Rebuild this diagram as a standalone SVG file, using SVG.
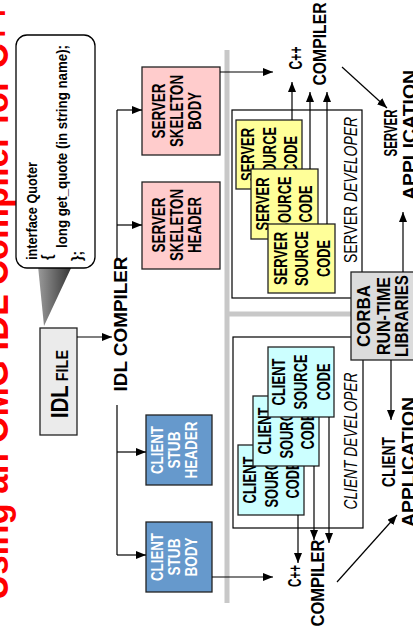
<svg xmlns="http://www.w3.org/2000/svg" width="413" height="629" viewBox="0 0 413 629">
<defs>
<marker id="ah" markerWidth="10" markerHeight="8" refX="10" refY="4" orient="auto" markerUnits="userSpaceOnUse"><path d="M0,0 L10,4 L0,8 z" fill="#000"/></marker>
<linearGradient id="pg" x1="0" y1="0" x2="1" y2="0"><stop offset="0" stop-color="#9a9a9a"/><stop offset="1" stop-color="#333"/></linearGradient>
<style>
text{font-family:"Liberation Sans",Arial,sans-serif;font-weight:bold;fill:#000}
.m{text-anchor:middle}
.b18{font-size:18px}
.b17{font-size:16.5px}
.code{font-size:14px}
.w{fill:#fff}
.dev{font-weight:normal;font-size:18px}
.it{font-style:italic}
.box{stroke:#222;stroke-width:1.3}
.ln{stroke:#000;stroke-width:1.2;fill:none}
.arr{stroke:#000;stroke-width:1.2;fill:none;marker-end:url(#ah)}
.grey{stroke:#c8c8c8;stroke-width:5;fill:none}
</style>
</defs>
<rect width="413" height="629" fill="#fff"/>
<text transform="translate(8,600) rotate(-90)" font-size="38" textLength="597" lengthAdjust="spacingAndGlyphs" style="fill:#ff0000">Using an OMG IDL Compiler for C++</text>

<g id="separators">
<line class="grey" x1="227" y1="50" x2="227" y2="603"/>
<line class="grey" x1="227" y1="314" x2="352" y2="314"/>
</g>

<g id="callout">
<polygon points="38,266 72,266 44,326" fill="url(#pg)"/>
<rect x="16" y="35" width="79" height="233" rx="11" fill="#fff" stroke="#000" stroke-width="1.3"/>
<text class="code" transform="translate(37,260) rotate(-90)" textLength="98" lengthAdjust="spacingAndGlyphs">interface  Quoter</text>
<text class="code" transform="translate(52,260) rotate(-90)">{</text>
<text class="code" transform="translate(67,248) rotate(-90)" textLength="203" lengthAdjust="spacingAndGlyphs">long  get_quote (in string name);</text>
<text class="code" transform="translate(82,261) rotate(-90)">};</text>
</g>

<g id="idl-file">
<rect class="box" x="40" y="328" width="37" height="107" fill="#ebebeb"/>
<text class="m" transform="translate(68,384) rotate(-90)" textLength="68" lengthAdjust="spacingAndGlyphs"><tspan font-size="24">IDL</tspan><tspan font-size="17"> FILE</tspan></text>
</g>

<g id="idl-compiler">
<text class="m b18" transform="translate(127,324) rotate(-90)" textLength="135" lengthAdjust="spacingAndGlyphs">IDL COMPILER</text>
</g>

<g id="server-skeleton-body">
<rect class="box" x="142" y="67" width="78" height="88" fill="#ffcccc"/>
<text class="m b18" transform="translate(165,111) rotate(-90)" textLength="55" lengthAdjust="spacingAndGlyphs">SERVER</text>
<text class="m b18" transform="translate(183,111) rotate(-90)" textLength="72" lengthAdjust="spacingAndGlyphs">SKELETON</text>
<text class="m b18" transform="translate(201,111) rotate(-90)" textLength="38" lengthAdjust="spacingAndGlyphs">BODY</text>
</g>

<g id="server-skeleton-header">
<rect class="box" x="142" y="182" width="78" height="87" fill="#ffcccc"/>
<text class="m b18" transform="translate(165,225) rotate(-90)" textLength="55" lengthAdjust="spacingAndGlyphs">SERVER</text>
<text class="m b18" transform="translate(183,225) rotate(-90)" textLength="72" lengthAdjust="spacingAndGlyphs">SKELETON</text>
<text class="m b18" transform="translate(201,225) rotate(-90)" textLength="56" lengthAdjust="spacingAndGlyphs">HEADER</text>
</g>

<g id="client-stub-header">
<rect class="box" x="146" y="415" width="66" height="70" fill="#6699cc"/>
<text class="m b17 w" transform="translate(163,450) rotate(-90)" textLength="48" lengthAdjust="spacingAndGlyphs">CLIENT</text>
<text class="m b17 w" transform="translate(180,450) rotate(-90)" textLength="37" lengthAdjust="spacingAndGlyphs">STUB</text>
<text class="m b17 w" transform="translate(197,450) rotate(-90)" textLength="57" lengthAdjust="spacingAndGlyphs">HEADER</text>
</g>

<g id="client-stub-body">
<rect class="box" x="146" y="522" width="66" height="70" fill="#6699cc"/>
<text class="m b17 w" transform="translate(163,557) rotate(-90)" textLength="48" lengthAdjust="spacingAndGlyphs">CLIENT</text>
<text class="m b17 w" transform="translate(180,557) rotate(-90)" textLength="37" lengthAdjust="spacingAndGlyphs">STUB</text>
<text class="m b17 w" transform="translate(197,557) rotate(-90)" textLength="39" lengthAdjust="spacingAndGlyphs">BODY</text>
</g>

<g id="server-developer">
<rect x="232" y="110" width="130" height="188" fill="none" stroke="#000" stroke-width="1.2"/>
<text class="m dev" transform="translate(357,190) rotate(-90)" textLength="146" lengthAdjust="spacingAndGlyphs">SERVER <tspan class="it">DEVELOPER</tspan></text>
</g>

<g id="client-developer">
<rect x="233" y="337" width="130" height="191" fill="none" stroke="#000" stroke-width="1.2"/>
<text class="m dev it" transform="translate(357,441) rotate(-90)" textLength="137" lengthAdjust="spacingAndGlyphs">CLIENT DEVELOPER</text>
</g>

<g id="server-source-1">
<rect class="box" x="236" y="120" width="66" height="69" fill="#ffff99"/>
<text class="m b18" transform="translate(254,154.5) rotate(-90)" textLength="53" lengthAdjust="spacingAndGlyphs">SERVER</text>
<text class="m b18" transform="translate(276,154.5) rotate(-90)" textLength="55" lengthAdjust="spacingAndGlyphs">SOURCE</text>
<text class="m b18" transform="translate(297,154.5) rotate(-90)" textLength="37" lengthAdjust="spacingAndGlyphs">CODE</text>
</g>
<g id="server-source-2">
<rect class="box" x="251" y="169" width="67" height="70" fill="#ffff99"/>
<text class="m b18" transform="translate(269,204) rotate(-90)" textLength="53" lengthAdjust="spacingAndGlyphs">SERVER</text>
<text class="m b18" transform="translate(291,204) rotate(-90)" textLength="55" lengthAdjust="spacingAndGlyphs">SOURCE</text>
<text class="m b18" transform="translate(312,204) rotate(-90)" textLength="37" lengthAdjust="spacingAndGlyphs">CODE</text>
</g>
<g id="server-source-3">
<rect class="box" x="268" y="224" width="67" height="69" fill="#ffff99"/>
<text class="m b18" transform="translate(287,258.5) rotate(-90)" textLength="53" lengthAdjust="spacingAndGlyphs">SERVER</text>
<text class="m b18" transform="translate(308,258.5) rotate(-90)" textLength="55" lengthAdjust="spacingAndGlyphs">SOURCE</text>
<text class="m b18" transform="translate(330,258.5) rotate(-90)" textLength="37" lengthAdjust="spacingAndGlyphs">CODE</text>
</g>

<g id="client-source-1">
<rect class="box" x="238" y="445" width="66" height="70" fill="#ccffff"/>
<text class="m b18" transform="translate(256,480) rotate(-90)" textLength="47" lengthAdjust="spacingAndGlyphs">CLIENT</text>
<text class="m b18" transform="translate(278,480) rotate(-90)" textLength="55" lengthAdjust="spacingAndGlyphs">SOURCE</text>
<text class="m b18" transform="translate(299,480) rotate(-90)" textLength="37" lengthAdjust="spacingAndGlyphs">CODE</text>
</g>
<g id="client-source-2">
<rect class="box" x="253" y="396" width="66" height="70" fill="#ccffff"/>
<text class="m b18" transform="translate(271,431) rotate(-90)" textLength="47" lengthAdjust="spacingAndGlyphs">CLIENT</text>
<text class="m b18" transform="translate(293,431) rotate(-90)" textLength="55" lengthAdjust="spacingAndGlyphs">SOURCE</text>
<text class="m b18" transform="translate(314,431) rotate(-90)" textLength="37" lengthAdjust="spacingAndGlyphs">CODE</text>
</g>
<g id="client-source-3">
<rect class="box" x="268" y="347" width="66" height="70" fill="#ccffff"/>
<text class="m b18" transform="translate(285,382) rotate(-90)" textLength="47" lengthAdjust="spacingAndGlyphs">CLIENT</text>
<text class="m b18" transform="translate(307,382) rotate(-90)" textLength="55" lengthAdjust="spacingAndGlyphs">SOURCE</text>
<text class="m b18" transform="translate(330,382) rotate(-90)" textLength="37" lengthAdjust="spacingAndGlyphs">CODE</text>
</g>

<g id="corba-libraries">
<rect class="box" x="351" y="272" width="70" height="88" fill="#dcdcdc"/>
<text class="m b18" transform="translate(370,316) rotate(-90)" textLength="62" lengthAdjust="spacingAndGlyphs">CORBA</text>
<text class="m b18" transform="translate(390,316) rotate(-90)" textLength="78" lengthAdjust="spacingAndGlyphs">RUN-TIME</text>
<text class="m b18" transform="translate(408,316) rotate(-90)" textLength="82" lengthAdjust="spacingAndGlyphs">LIBRARIES</text>
</g>

<g id="server-compiler">
<text class="m b18" transform="translate(302,58) rotate(-90)" textLength="23" lengthAdjust="spacingAndGlyphs">C++</text>
<text class="m b18" transform="translate(326,44) rotate(-90)" textLength="83" lengthAdjust="spacingAndGlyphs">COMPILER</text>
</g>
<g id="client-compiler">
<text class="m b18" transform="translate(301,576) rotate(-90)" textLength="22" lengthAdjust="spacingAndGlyphs">C++</text>
<text class="m b18" transform="translate(324,583) rotate(-90)" textLength="87" lengthAdjust="spacingAndGlyphs">COMPILER</text>
</g>

<g id="server-application">
<text class="m b18" transform="translate(397,133) rotate(-90)" textLength="47" lengthAdjust="spacingAndGlyphs">SERVER</text>
<text class="m b18" transform="translate(416,135) rotate(-90)" textLength="130" lengthAdjust="spacingAndGlyphs">APPLICATION</text>
</g>
<g id="client-application">
<text class="m b18" transform="translate(395,462) rotate(-90)" textLength="50" lengthAdjust="spacingAndGlyphs">CLIENT</text>
<text class="m b18" transform="translate(415,462) rotate(-90)" textLength="130" lengthAdjust="spacingAndGlyphs">APPLICATION</text>
</g>

<g id="connectors">
<line class="arr" x1="77" y1="337" x2="112" y2="337"/>
<line class="ln" x1="117" y1="110" x2="117" y2="258"/>
<line class="arr" x1="117" y1="110" x2="142" y2="110"/>
<line class="arr" x1="117" y1="225" x2="142" y2="225"/>
<line class="ln" x1="117" y1="405" x2="117" y2="555"/>
<line class="arr" x1="117" y1="452" x2="146" y2="452"/>
<line class="arr" x1="117" y1="555" x2="146" y2="555"/>
<line class="arr" x1="220" y1="72" x2="273" y2="72"/>
<line class="arr" x1="212" y1="577" x2="273" y2="577"/>
<line class="arr" x1="292" y1="120" x2="292" y2="82"/>
<line class="arr" x1="310" y1="169" x2="310" y2="92"/>
<line class="arr" x1="327" y1="224" x2="327" y2="92"/>
<line class="arr" x1="298" y1="515" x2="298" y2="563"/>
<line class="arr" x1="314" y1="466" x2="314" y2="540"/>
<line class="arr" x1="329" y1="417" x2="329" y2="543"/>
<line class="arr" x1="342" y1="67" x2="387" y2="108"/>
<line class="arr" x1="337" y1="582" x2="397" y2="515"/>
<line class="arr" x1="403" y1="272" x2="403" y2="212"/>
<line class="arr" x1="391" y1="360" x2="391" y2="420"/>
</g>
</svg>
